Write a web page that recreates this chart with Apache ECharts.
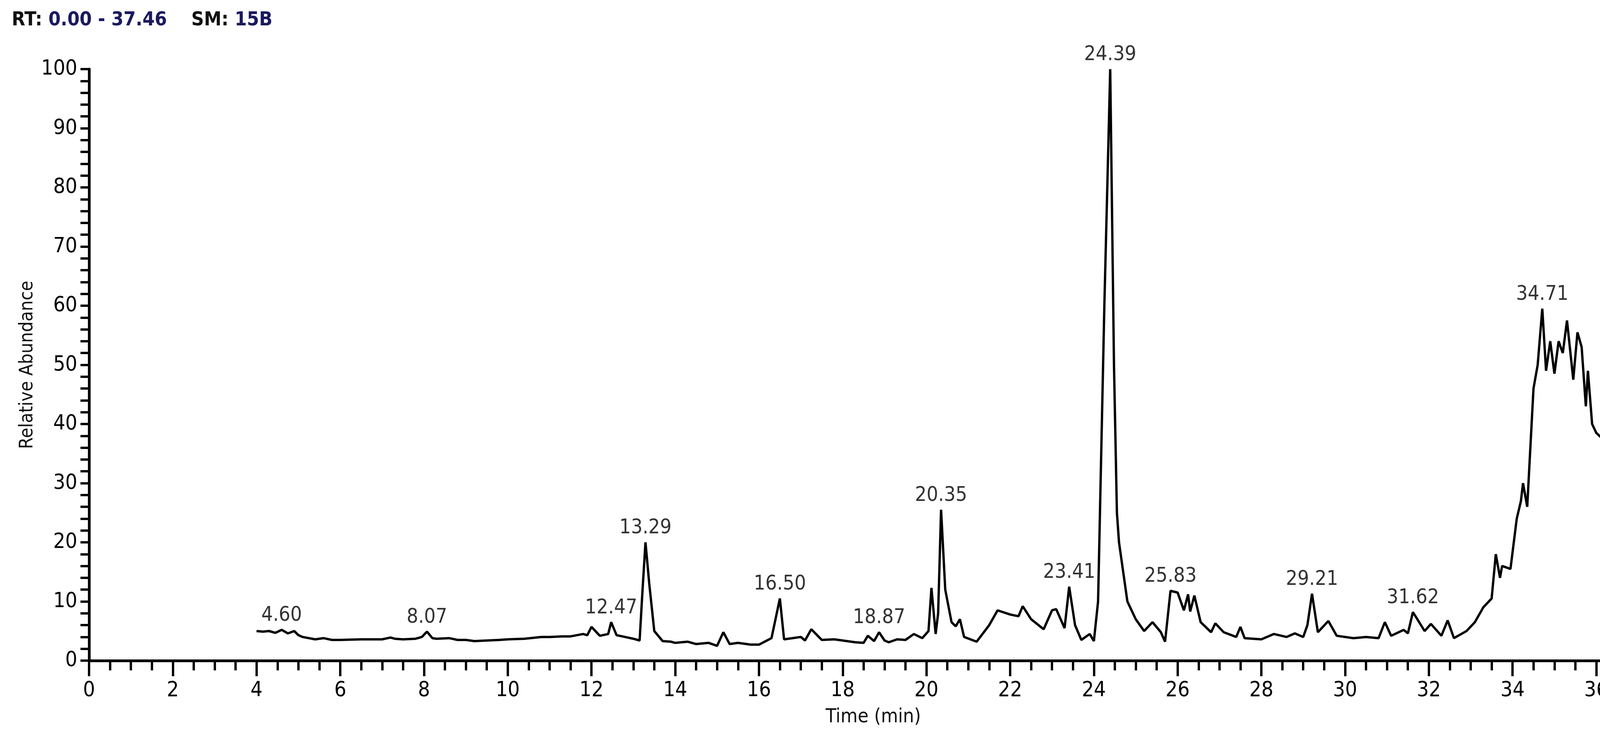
<!DOCTYPE html>
<html>
<head>
<meta charset="utf-8">
<script src="https://cdn.jsdelivr.net/npm/echarts@6/dist/echarts.min.js"></script>
<style>html,body{margin:0;padding:0;background:#fff}#chart{width:4386px;height:1903px}</style>
</head>
<body>
<div id="chart"></div>
<script>
// retention time (min) / relative abundance
var times = [4.0,4.15,4.3,4.45,4.6,4.75,4.9,5.0,5.1,5.4,5.6,5.8,6,6.5,7,7.2,7.3,7.5,7.8,7.95,8.07,8.2,8.3,8.6,8.8,9,9.2,9.5,9.8,10,10.4,10.8,11,11.3,11.5,11.8,11.9,12.0,12.2,12.4,12.47,12.6,12.8,13.0,13.15,13.22,13.29,13.38,13.5,13.7,13.9,14,14.3,14.5,14.8,15,15.15,15.3,15.5,15.8,16,16.3,16.5,16.6,16.8,17,17.1,17.25,17.5,17.8,18,18.3,18.5,18.6,18.75,18.87,19.0,19.1,19.3,19.5,19.7,19.9,20.05,20.12,20.22,20.28,20.35,20.45,20.6,20.7,20.8,20.9,21.2,21.5,21.7,22.0,22.2,22.3,22.5,22.8,23.0,23.1,23.3,23.41,23.55,23.7,23.9,24.0,24.1,24.25,24.39,24.48,24.55,24.6,24.8,25.0,25.2,25.4,25.6,25.7,25.83,26.0,26.15,26.25,26.3,26.4,26.55,26.8,26.9,27.1,27.4,27.5,27.6,28,28.3,28.6,28.8,29.0,29.1,29.21,29.35,29.6,29.8,30.2,30.5,30.8,30.95,31.1,31.4,31.5,31.62,31.9,32.05,32.3,32.45,32.6,32.9,33.1,33.3,33.5,33.6,33.7,33.75,33.95,34.1,34.2,34.25,34.35,34.5,34.6,34.71,34.8,34.9,35.0,35.1,35.2,35.3,35.45,35.55,35.65,35.75,35.8,35.9,36.0,36.3,36.4,36.5,36.6,36.75,36.85,36.93,37.0,37.1,37.2,37.3,37.38];
var abundance = [5,4.9,5.0,4.7,5.2,4.6,5.0,4.3,4.0,3.6,3.8,3.5,3.5,3.6,3.6,3.9,3.7,3.6,3.7,4.0,4.9,3.8,3.7,3.8,3.5,3.5,3.3,3.4,3.5,3.6,3.7,4.0,4.0,4.1,4.1,4.5,4.3,5.7,4.2,4.5,6.5,4.3,4.0,3.7,3.4,12,20,13,5,3.3,3.2,3.0,3.2,2.8,3.0,2.5,4.8,2.8,3.0,2.7,2.7,3.8,10.5,3.6,3.8,4.0,3.4,5.3,3.5,3.6,3.4,3.1,3.0,4.2,3.3,4.8,3.4,3.1,3.6,3.5,4.5,3.8,5,12.3,4.5,8,25.5,12,6.5,5.8,7,4,3.2,6,8.5,7.8,7.5,9.2,7.0,5.3,8.5,8.7,5.5,12.5,6,3.5,4.5,3.3,10,60,100,50,25,20,10,7,5,6.5,4.8,3.2,11.8,11.5,8.5,11.2,8.3,11,6.5,4.8,6.3,4.8,4,5.7,3.8,3.6,4.5,4.0,4.6,4.0,6.0,11.3,4.8,6.7,4.2,3.8,4.0,3.8,6.5,4.2,5.2,4.6,8.2,5.0,6.2,4.2,6.8,3.8,5,6.5,9,10.5,18,14,16,15.5,24,27,30,26,46,50,59.5,49,54,48.5,54,52,57.5,47.5,55.5,53,43,49,40,38.5,36.5,37,33.5,38,39,42,90.5,52,48.5,47,51.5,47];
// annotated peaks
var peakTimes = [4.60,8.07,12.47,13.29,16.50,18.87,20.35,23.41,24.39,25.83,29.21,31.62,34.71];
var peakValues = [5.2,4.9,6.5,20,10.5,4.8,25.5,12.5,100,11.8,11.3,8.2,59.5];

var font = '"DejaVu Sans Condensed", "Liberation Sans", Arial, sans-serif';
var chart = echarts.init(document.getElementById('chart'));
var line = [], peaks = [];
for (var i = 0; i < times.length; i++) line.push([times[i], abundance[i]]);
for (var j = 0; j < peakTimes.length; j++) peaks.push([peakTimes[j], peakValues[j]]);

chart.setOption({
	backgroundColor: '#fff',
	animation: false,
	title: {
		left: 25, top: 22,
		text: '{k|RT: }{v|0.00 - 37.46}{k|    SM: }{v|15B}',
		textStyle: {
			rich: {
				k: {fontFamily: font, fontSize: 50, fontWeight: 'bold', color: '#111'},
				v: {fontFamily: font, fontSize: 50, fontWeight: 'bold', color: '#1a1a5e'}
			}
		}
	},
	grid: {left: 228, right: 143, top: 177, bottom: 211},
	xAxis: {
		type: 'value', min: 0, max: 37.46, interval: 2,
		name: 'Time (min)', nameLocation: 'middle', nameGap: 120,
		nameTextStyle: {fontFamily: font, fontSize: 50, color: '#111'},
		axisLine: {lineStyle: {color: '#000', width: 7}},
		axisTick: {length: 40, lineStyle: {color: '#000', width: 6}},
		minorTick: {show: true, splitNumber: 4, length: 25, lineStyle: {color: '#000', width: 6}},
		axisLabel: {fontFamily: font, fontSize: 54, color: '#000', margin: 50, showMaxLabel: false},
		splitLine: {show: false}
	},
	yAxis: {
		type: 'value', min: 0, max: 100, interval: 10,
		name: 'Relative Abundance', nameLocation: 'middle', nameGap: 125, nameRotate: 90,
		nameTextStyle: {fontFamily: font, fontSize: 48, color: '#111'},
		axisLine: {show: true, lineStyle: {color: '#000', width: 7}},
		axisTick: {show: true, length: 22, lineStyle: {color: '#000', width: 6}},
		minorTick: {show: true, splitNumber: 5, length: 22, lineStyle: {color: '#000', width: 6}},
		axisLabel: {fontFamily: font, fontSize: 54, color: '#000', margin: 30},
		splitLine: {show: false}
	},
	series: [
		{
			type: 'line', data: line, symbol: 'none',
			lineStyle: {color: '#000', width: 6}
		},
		{
			type: 'scatter', data: peaks, symbolSize: 1,
			itemStyle: {color: 'rgba(0,0,0,0)'},
			label: {
				show: true, position: 'top', distance: 10,
				fontFamily: font, fontSize: 52, color: '#000',
				formatter: function (p) { return p.value[0].toFixed(2); }
			}
		}
	]
});
</script>
</body>
</html>
